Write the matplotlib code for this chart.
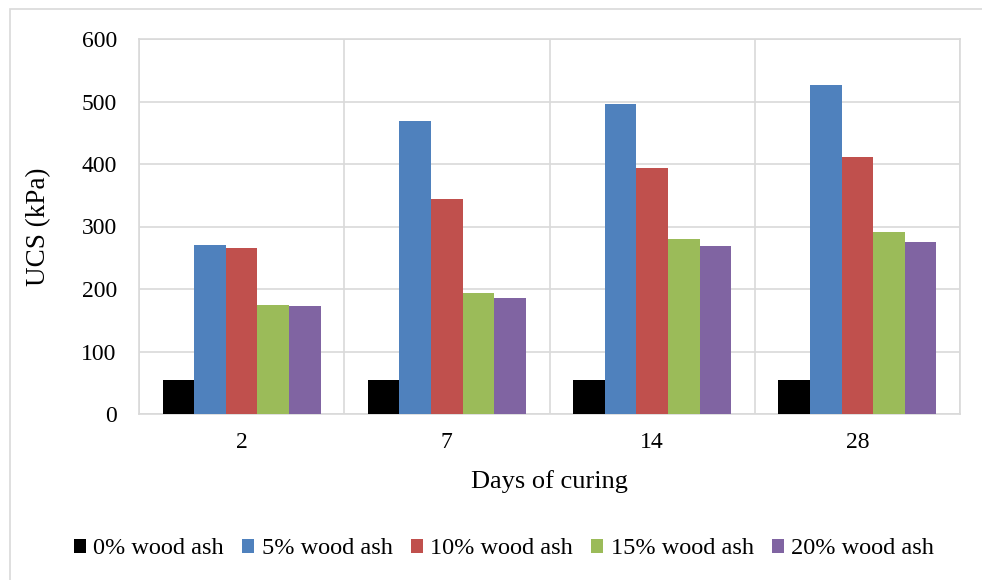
import matplotlib
matplotlib.use("Agg")
import matplotlib.pyplot as plt
import numpy as np
from matplotlib.patches import Rectangle

categories = ["2", "7", "14", "28"]
series_names = ["0% wood ash", "5% wood ash", "10% wood ash", "15% wood ash", "20% wood ash"]
s0 = [54, 54, 54, 54]
s5 = [270, 469, 496, 526]
s10 = [265, 344, 394, 411]
s15 = [175, 193, 280, 292]
s20 = [173, 186, 269, 276]
values = [s0, s5, s10, s15, s20]
colors = ["#000000", "#4F81BD", "#C0504D", "#9BBB59", "#8064A2"]
yticks = [0, 100, 200, 300, 400, 500, 600]

plt.rcParams['font.family'] = ['Liberation Serif', 'DejaVu Serif']

fig = plt.figure(figsize=(9.82, 5.8), dpi=100)
W, H = 982, 580
ax = fig.add_axes([139 / W, 1 - 414 / H, (960 - 139) / W, (414 - 39) / H])

# outer frame
fig.patches.append(Rectangle((10 / W, -0.1), 1.2, 1 - 9.5 / H + 0.1, transform=fig.transFigure,
                             fill=False, edgecolor="#D9D9D9", linewidth=1.2, zorder=0))

x = np.arange(len(categories))
bw = 0.154
n = len(values)
for i, (vals, c, name) in enumerate(zip(values, colors, series_names)):
    offs = (i - (n - 1) / 2) * bw
    ax.bar(x + offs, vals, width=bw, color=c, label=name, zorder=3, linewidth=0)

ax.set_xlim(-0.5, len(categories) - 0.5)
ax.set_ylim(0, 600)
ax.set_yticks(yticks)
ax.set_xticks(x)
ax.set_xticklabels(categories)
ax.set_xticks(np.arange(-0.5, len(categories)), minor=True)
ax.grid(axis='y', which='major', color="#D9D9D9", linewidth=1.2, zorder=0)
ax.grid(axis='x', which='minor', color="#D9D9D9", linewidth=1.2, zorder=0)
ax.tick_params(axis='both', which='both', length=0, labelsize=17, colors='black')
ax.tick_params(axis='y', pad=16)
ax.tick_params(axis='x', pad=13)
for sp in ax.spines.values():
    sp.set_color("#D9D9D9")
    sp.set_linewidth(1.2)

ax.set_ylabel("UCS (kPa)", fontsize=19.5, labelpad=22)
ax.set_xlabel("Days of curing", fontsize=19, labelpad=12)

fig.legend(loc='center', bbox_to_anchor=(504 / W, 1 - 549 / H), ncol=5, frameon=False,
           fontsize=17.5, handlelength=0.5, handleheight=0.5, handletextpad=0.3,
           columnspacing=0.75)

fig.savefig("out.png", dpi=100)
